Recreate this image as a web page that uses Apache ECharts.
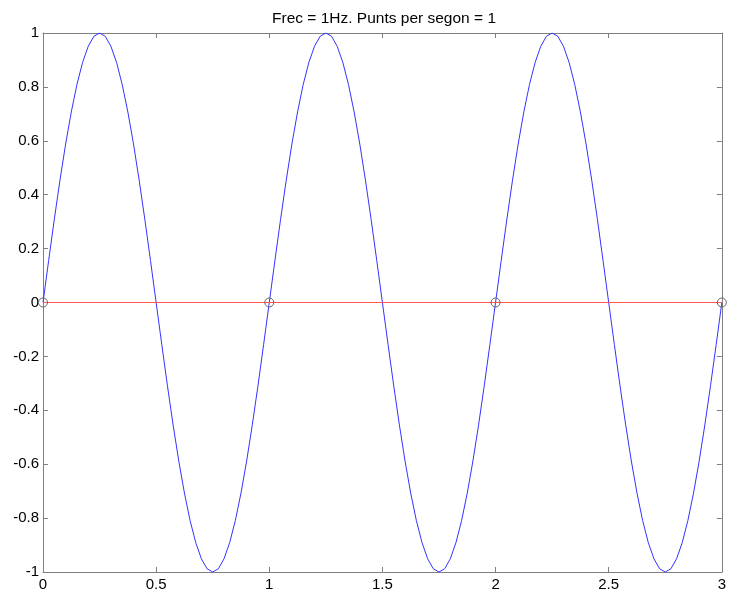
<!DOCTYPE html>
<html>
<head>
<meta charset="utf-8">
<script src="https://cdn.jsdelivr.net/npm/echarts@6/dist/echarts.min.js"></script>
<style>
html,body{margin:0;padding:0;background:#fff;}
#chart{width:729px;height:593px;}
</style>
</head>
<body>
<div id="chart"></div>
<script>
const titleText = 'Frec = 1Hz. Punts per segon = 1';
const xTicks = [0, 0.5, 1, 1.5, 2, 2.5, 3];
const yTicks = [-1, -0.8, -0.6, -0.4, -0.2, 0, 0.2, 0.4, 0.6, 0.8, 1];

const sineX = [
  0, 0.025, 0.05, 0.075, 0.1, 0.125, 0.15, 0.175, 0.2, 0.225,
  0.25, 0.275, 0.3, 0.325, 0.35, 0.375, 0.4, 0.425, 0.45, 0.475,
  0.5, 0.525, 0.55, 0.575, 0.6, 0.625, 0.65, 0.675, 0.7, 0.725,
  0.75, 0.775, 0.8, 0.825, 0.85, 0.875, 0.9, 0.925, 0.95, 0.975,
  1, 1.025, 1.05, 1.075, 1.1, 1.125, 1.15, 1.175, 1.2, 1.225,
  1.25, 1.275, 1.3, 1.325, 1.35, 1.375, 1.4, 1.425, 1.45, 1.475,
  1.5, 1.525, 1.55, 1.575, 1.6, 1.625, 1.65, 1.675, 1.7, 1.725,
  1.75, 1.775, 1.8, 1.825, 1.85, 1.875, 1.9, 1.925, 1.95, 1.975,
  2, 2.025, 2.05, 2.075, 2.1, 2.125, 2.15, 2.175, 2.2, 2.225,
  2.25, 2.275, 2.3, 2.325, 2.35, 2.375, 2.4, 2.425, 2.45, 2.475,
  2.5, 2.525, 2.55, 2.575, 2.6, 2.625, 2.65, 2.675, 2.7, 2.725,
  2.75, 2.775, 2.8, 2.825, 2.85, 2.875, 2.9, 2.925, 2.95, 2.975,
  3
];
const sineY = [
  0, 0.156, 0.309, 0.454, 0.588, 0.707, 0.809, 0.891, 0.951, 0.988,
  1, 0.988, 0.951, 0.891, 0.809, 0.707, 0.588, 0.454, 0.309, 0.156,
  0, -0.156, -0.309, -0.454, -0.588, -0.707, -0.809, -0.891, -0.951, -0.988,
  -1, -0.988, -0.951, -0.891, -0.809, -0.707, -0.588, -0.454, -0.309, -0.156,
  0, 0.156, 0.309, 0.454, 0.588, 0.707, 0.809, 0.891, 0.951, 0.988,
  1, 0.988, 0.951, 0.891, 0.809, 0.707, 0.588, 0.454, 0.309, 0.156,
  0, -0.156, -0.309, -0.454, -0.588, -0.707, -0.809, -0.891, -0.951, -0.988,
  -1, -0.988, -0.951, -0.891, -0.809, -0.707, -0.588, -0.454, -0.309, -0.156,
  0, 0.156, 0.309, 0.454, 0.588, 0.707, 0.809, 0.891, 0.951, 0.988,
  1, 0.988, 0.951, 0.891, 0.809, 0.707, 0.588, 0.454, 0.309, 0.156,
  0, -0.156, -0.309, -0.454, -0.588, -0.707, -0.809, -0.891, -0.951, -0.988,
  -1, -0.988, -0.951, -0.891, -0.809, -0.707, -0.588, -0.454, -0.309, -0.156,
  0
];
const sampleX = [0, 1, 2, 3];
const sampleY = [0, 0, 0, 0];

const axisGrey = '#7f7f7f';
const font = 'Liberation Sans, Arial, sans-serif';

const chart = echarts.init(document.getElementById('chart'), null, {renderer: 'canvas'});

function baseX(pos, show) {
  return {
    type: 'value', position: pos, min: 0, max: 3, interval: 0.5,
    axisLine: {show: true, onZero: false, lineStyle: {color: axisGrey, width: 1}},
    axisTick: {show: true, inside: true, length: 5, lineStyle: {color: axisGrey}},
    axisLabel: {show: show, color: '#000', fontFamily: font, fontSize: 15, margin: 5},
    splitLine: {show: false}
  };
}
function baseY(pos, show) {
  return {
    type: 'value', position: pos, min: -1, max: 1, interval: 0.2,
    axisLine: {show: true, onZero: false, lineStyle: {color: axisGrey, width: 1}},
    axisTick: {show: true, inside: true, length: 5, lineStyle: {color: axisGrey}},
    axisLabel: {show: show, color: '#000', fontFamily: font, fontSize: 15, margin: 4,
      formatter: v => String(Math.round(v * 10) / 10)},
    splitLine: {show: false}
  };
}

chart.setOption({
  animation: false,
  backgroundColor: '#fff',
  title: {
    text: titleText, left: 379, top: 6, textAlign: 'center',
    textStyle: {fontFamily: font, fontSize: 15.5, fontWeight: 'normal', color: '#000'}
  },
  grid: {left: 43, top: 33, right: 5, bottom: 21, containLabel: false},
  xAxis: [baseX('bottom', true), baseX('top', false)],
  yAxis: [baseY('left', true), baseY('right', false)],
  series: [
    {
      type: 'line', xAxisIndex: 0, yAxisIndex: 0,
      data: sineX.map((x, i) => [x, sineY[i]]),
      showSymbol: false, symbol: 'none',
      lineStyle: {color: '#3333ff', width: 1},
      z: 3
    },
    {
      type: 'line', xAxisIndex: 0, yAxisIndex: 0,
      data: sampleX.map((x, i) => [x, sampleY[i]]),
      symbol: 'circle', symbolSize: 9, showSymbol: true,
      lineStyle: {color: '#ff5555', width: 1},
      itemStyle: {color: 'rgba(0,0,0,0)', borderColor: '#666', borderWidth: 1},
      z: 4
    }
  ]
});
</script>
</body>
</html>
